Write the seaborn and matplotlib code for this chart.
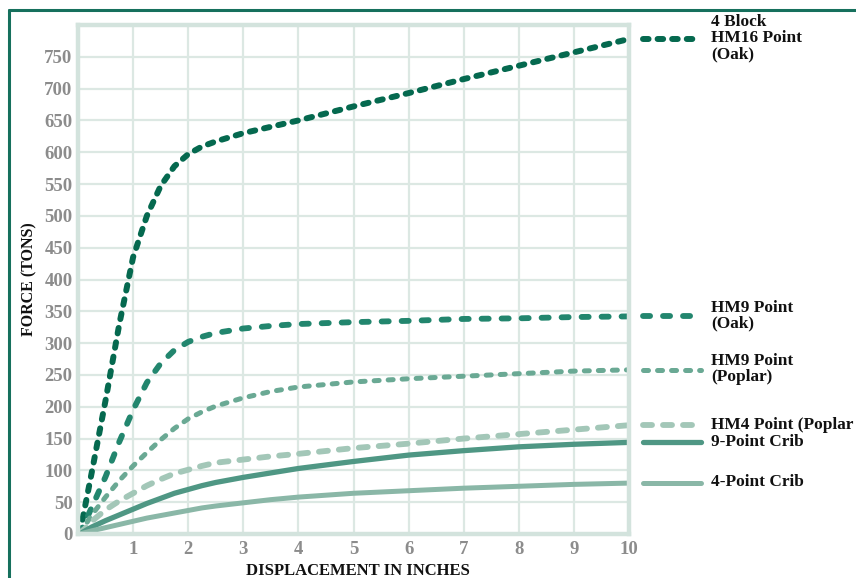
import numpy as np
import pandas as pd
import matplotlib
matplotlib.use('Agg')
import matplotlib.pyplot as plt
from matplotlib.lines import Line2D
import seaborn as sns

# displacement (inches), shared by every curve
displacement = [0.03, 0.25, 0.5, 0.75, 1.0, 1.25, 1.5, 1.75, 2.0, 2.25, 2.5,
                3, 3.5, 4, 5, 6, 7, 8, 9, 10]

# force (tons)
hm16_oak = [0, 97, 210, 330, 435, 500, 547, 578, 597, 609, 617,
            630, 640, 650, 672, 693, 715, 736, 757, 778]
hm9_oak = [0, 42, 90, 145, 195, 238, 268, 289, 302, 310, 316,
           323, 327, 330, 333, 335, 338, 339, 341, 342]
hm9_poplar = [0, 30, 58, 84, 107, 128, 148, 166, 181, 192, 201,
              214, 224, 231, 239, 244, 248, 252, 256, 258]
hm4_poplar = [0, 20, 38, 52, 64, 76, 86, 95, 101, 107, 112,
              117, 122, 126, 135, 142, 150, 157, 164, 171]
crib9 = [0, 11, 21, 30, 39, 48, 56, 64, 70, 76, 81,
         89, 96, 103, 114, 124, 131, 137, 141, 144]
crib4 = [0, 5, 10, 15, 20, 25, 29, 33, 37, 41, 44,
         49, 54, 58, 64, 68, 72, 75, 78, 80]

# the HM4 label is cut at the page edge in the original
labels = ['4 Block\nHM16 Point\n(Oak)', 'HM9 Point\n(Oak)', 'HM9 Point\n(Poplar)',
          'HM4 Point (Poplar', '9-Point Crib', '4-Point Crib']
series = [hm16_oak, hm9_oak, hm9_poplar, hm4_poplar, crib9, crib4]
colors = ['#05694f', '#22866e', '#6aa994', '#a3c7b8', '#4f9784', '#8ab7a7']
# (on, off) in points, None = solid
dash_styles = [(4.0, 6.5), (5.1, 9.3), (3.6, 6.5), (6.5, 7.9), None, None]
widths = [4.3, 4.2, 3.6, 4.2, 3.8, 3.6]

sns.set_theme(style='white')
plt.rcParams['font.family'] = ['Liberation Serif', 'DejaVu Serif']
plt.rcParams['lines.scale_dashes'] = False

fig = plt.figure(figsize=(8.56, 5.78), dpi=100)
ax = fig.add_axes([78 / 856, 44 / 578, 551 / 856, 509 / 578])

df = pd.DataFrame({'x': displacement})
for lab, vals, col, dsh, lw in zip(labels, series, colors, dash_styles, widths):
    df['y'] = vals
    sns.lineplot(data=df, x='x', y='y', ax=ax, color=col, lw=lw, estimator=None)
    line = ax.lines[-1]
    line.set_solid_capstyle('round')
    line.set_dash_capstyle('round')
    if dsh is not None:
        line.set_linestyle((0, dsh))
    # direct label to the right of the plot
    leg = Line2D([10.25, 11.3], [vals[-1], vals[-1]], color=col, lw=lw,
                 solid_capstyle='round', dash_capstyle='round', clip_on=False)
    if dsh is not None:
        leg.set_linestyle((0, dsh))
    ax.add_line(leg)
    ax.text(11.49, vals[-1] + 1, lab, ha='left', va='center', fontsize=12.4,
            fontweight='bold', color='#111111', linespacing=1.0, clip_on=False)

ax.set_xlim(0, 10)
ax.set_ylim(0, 800)
ax.set_xticks(range(1, 11))
ax.set_yticks(range(0, 800, 50))
ax.grid(True, color='#dce8e3', lw=1.6)
ax.set_axisbelow(True)
for sp in ax.spines.values():
    sp.set_visible(True)
    sp.set_color('#d3e3dd')
    sp.set_linewidth(3.2)
ax.tick_params(length=0, labelsize=13.5, labelcolor='#8c8c8c')
for t in ax.get_xticklabels() + ax.get_yticklabels():
    t.set_fontweight('semibold')
ax.tick_params(axis='y', pad=4)
ax.tick_params(axis='x', pad=5)

ax.set_xlabel('DISPLACEMENT IN INCHES', fontsize=12, fontweight='bold', color='#111111')
ax.set_ylabel('FORCE (TONS)', fontsize=11.5, fontweight='bold', color='#111111')
ax.xaxis.set_label_coords(0.508, -0.073)
ax.xaxis.label.set_va('center')
ax.yaxis.set_label_coords(-0.088, 0.5)
ax.yaxis.label.set_va('center')

# dark green page border (top and left)
fig.add_artist(Line2D([9 / 856, 1], [1 - 10 / 578, 1 - 10 / 578], color='#16705d', lw=2.2))
fig.add_artist(Line2D([9 / 856, 9 / 856], [0, 1 - 10 / 578], color='#16705d', lw=2.2))

fig.savefig('out.png', dpi=100)
